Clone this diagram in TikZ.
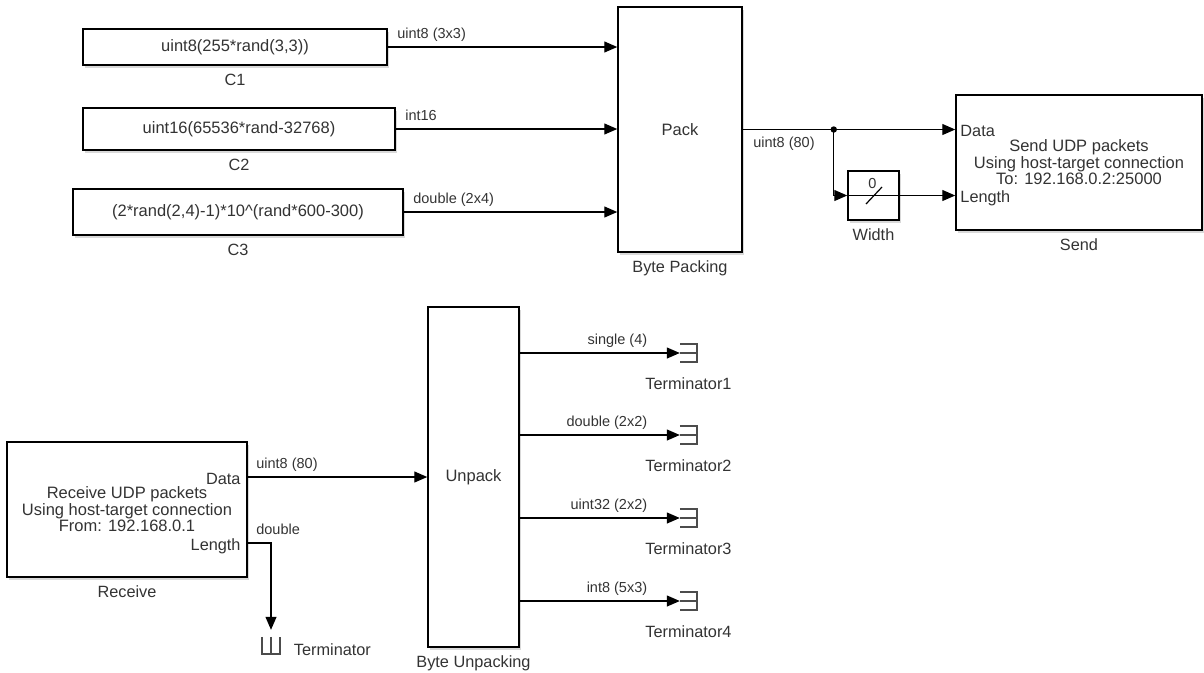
\documentclass[tikz,border=0pt]{standalone}
\usepackage{fontspec}
\setmainfont{Liberation Sans}
\usetikzlibrary{arrows.meta,positioning,shadows}
\definecolor{sltext}{HTML}{333333}
\tikzset{
  blk/.style={draw=black, line width=1.5pt, fill=white, inner sep=0pt, align=center,
    text=sltext, font=\fontsize{16.5}{16.5}\selectfont,
    drop shadow={shadow xshift=2pt, shadow yshift=-2.5pt, opacity=.3}},
  sig/.style={line width=1.2pt, -{Triangle[length=13pt,width=11pt]}},
  wire/.style={line width=1.2pt},
  siglbl/.style={text=sltext, font=\fontsize{14.5}{15}\selectfont, inner sep=0pt,
    text height=10.5pt, text depth=3pt},
  blkcap/.style={text=sltext, font=\fontsize{16.3}{16}\selectfont, inner sep=0pt,
    text height=11.5pt, text depth=3.5pt},
  port/.style={text=sltext, font=\fontsize{16.3}{16}\selectfont, inner sep=0pt,
    text height=11.5pt, text depth=3.5pt, yshift=-3pt},
  term/.style={minimum size=17pt, inner sep=0pt},
  termline/.style={draw=black!70, line width=1.8pt},
}
\begin{document}
\begin{tikzpicture}[x=1pt,y=-1pt]
  \useasboundingbox (0,0) rectangle (1204,672);

  % sending side
  \node[blk, minimum width=304pt, minimum height=36pt] (c1) at (235,47) {uint8(255*rand(3,3))};
  \node[blk, minimum width=312pt, minimum height=42pt] (c2) at (239,129) {uint16(65536*rand-32768)};
  \node[blk, minimum width=330pt, minimum height=46pt] (c3) at (238,212) {(2*rand(2,4)-1)*10\textasciicircum(rand*600-300)};
  \node[blkcap, below=8.5pt of c1] (c1cap) {C1};
  \node[blkcap, below=8.5pt of c2] (c2cap) {C2};
  \node[blkcap, below=8.5pt of c3] (c3cap) {C3};

  \node[blk, minimum width=124pt, minimum height=245pt] (pack) at (680,129.5) {Pack};
  \node[blkcap, below=8.5pt of pack] (packcap) {Byte Packing};

  \node[blk, minimum width=51pt, minimum height=49pt] (wid) at (873.5,195.5) {};
  \node[blkcap, below=8.5pt of wid] (widcap) {Width};
  \draw[wire] (wid.west) -- (wid.east);
  \draw[wire] ([shift={(-7.5,8.5)}]wid.center) -- ([shift={(8.5,-8.5)}]wid.center);
  \node[siglbl] (widzero) at ([shift={(-1,-11)}]wid.center) {0};

  \node[blk, minimum width=246pt, minimum height=135pt] (send) at (1079,162.5)
    {Send UDP packets\\Using host-target connection\\To: 192.168.0.2:25000};
  \node[blkcap, below=8.5pt of send] (sendcap) {Send};
  \node[port, anchor=west, xshift=5pt] (sdata) at (send.west |- pack.east) {Data};
  \node[port, anchor=west, xshift=5pt] (slen) at (send.west |- wid.east) {Length};

  \draw[sig] (c1.east) -- node[siglbl, pos=0, anchor=south west, xshift=9pt, yshift=5pt] {uint8 (3x3)} (pack.west |- c1.east);
  \draw[sig] (c2.east) -- node[siglbl, pos=0, anchor=south west, xshift=9pt, yshift=5pt] {int16} (pack.west |- c2.east);
  \draw[sig] (c3.east) -- node[siglbl, pos=0, anchor=south west, xshift=9pt, yshift=5pt] {double (2x4)} (pack.west |- c3.east);

  \path (pack.east) ++(91,0) coordinate (br);
  \draw[sig] (pack.east) -- node[siglbl, pos=0, anchor=north west, xshift=10pt, yshift=-7pt] {uint8 (80)} (send.west |- pack.east);
  \fill (br) circle (3.2pt);
  \draw[sig] (br) |- (wid.west);
  \draw[sig] (wid.east) -- (send.west |- wid.east);

  % receiving side
  \node[blk, minimum width=240pt, minimum height=135pt] (rx) at (127,509.5)
    {Receive UDP packets\\Using host-target connection\\From: 192.168.0.1};
  \node[blkcap, below=8.5pt of rx] (rxcap) {Receive};
  \node[blk, minimum width=91pt, minimum height=340pt] (unpack) at (473.5,477) {Unpack};
  \node[blkcap, below=8.5pt of unpack] (unpackcap) {Byte Unpacking};

  \coordinate (rxlen) at ([shift={(0,33.5)}]rx.east);
  \node[port, anchor=east, xshift=-7pt] (rxd) at (rx.east |- unpack.west) {Data};
  \node[port, anchor=east, xshift=-7pt] (rxl) at (rxlen) {Length};

  \node[term] (tb) at (271,645.5) {};
  \node[blkcap, right=14pt of tb, yshift=-6pt] (tbcap) {Terminator};
  \draw[termline] (tb.north west) -- (tb.south west) -- (tb.south east) -- (tb.north east) (tb.north) -- (tb.south);

  \node[term] (t1) at (688.5,353) {};
  \node[term] (t2) at (688.5,435) {};
  \node[term] (t3) at (688.5,518) {};
  \node[term] (t4) at (688.5,601) {};
  \foreach \t/\n in {t1/1,t2/2,t3/3,t4/4} {
    \draw[termline] (\t.north west) -- (\t.north east) -- (\t.south east) -- (\t.south west) (\t.west) -- (\t.east);
    \node[blkcap, below=16pt of \t] (\t cap) {Terminator\n};
  }

  \draw[sig] (rx.east |- unpack.west) -- node[siglbl, pos=0, anchor=south west, xshift=8pt, yshift=5pt] {uint8 (80)} (unpack.west);
  \draw[sig, shorten >=7pt] (rxlen) -| node[siglbl, pos=0, anchor=south west, xshift=8pt, yshift=5pt] {double} (tb.north);

  \draw[sig] (unpack.east |- t1.west) -- node[siglbl, pos=1, anchor=south east, xshift=-32pt, yshift=5pt] {single (4)} (t1.west);
  \draw[sig] (unpack.east |- t2.west) -- node[siglbl, pos=1, anchor=south east, xshift=-32pt, yshift=5pt] {double (2x2)} (t2.west);
  \draw[sig] (unpack.east |- t3.west) -- node[siglbl, pos=1, anchor=south east, xshift=-32pt, yshift=5pt] {uint32 (2x2)} (t3.west);
  \draw[sig] (unpack.east |- t4.west) -- node[siglbl, pos=1, anchor=south east, xshift=-32pt, yshift=5pt] {int8 (5x3)} (t4.west);
\end{tikzpicture}
\end{document}
